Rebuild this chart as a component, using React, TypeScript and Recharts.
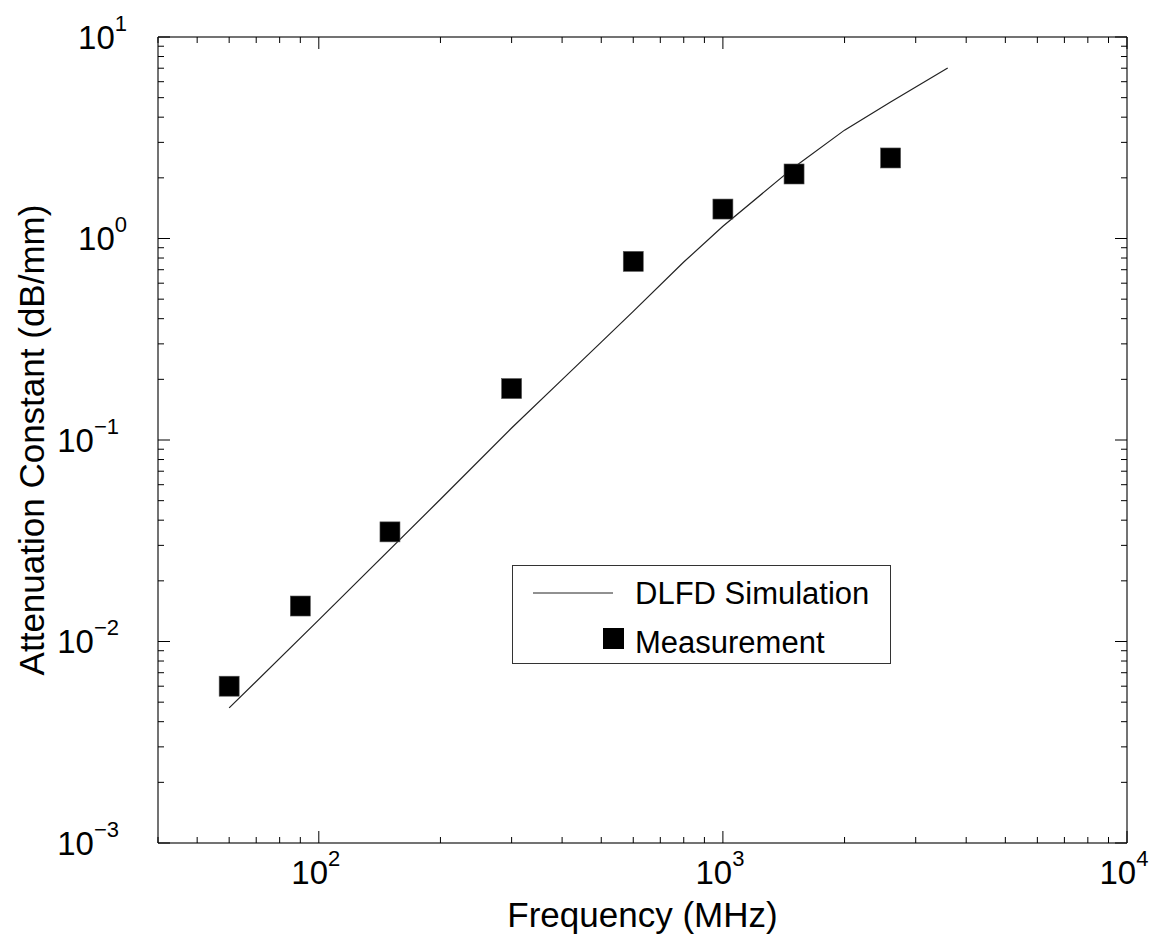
import React from "react";
import { ComposedChart, Line, Scatter, XAxis, YAxis, Legend, Label } from "recharts";

// DLFD simulation curve
const simFreq = [60, 100, 200, 300, 400, 500, 600, 800, 1000, 1500, 2000, 2600, 3600];
const simAtten = [0.00468, 0.0128, 0.0508, 0.1147, 0.1995, 0.306, 0.435, 0.764, 1.15, 2.26, 3.45, 4.76, 7.02];

// measured points
const measFreq = [60, 90, 150, 300, 600, 1000, 1500, 2600];
const measAtten = [0.006, 0.015, 0.035, 0.18, 0.77, 1.4, 2.09, 2.51];

const xDecades = [10, 100, 1000, 10000];
const yDecades = [0.001, 0.01, 0.1, 1, 10];
const xDomain = [40, 10000];
const yDomain = [0.001, 10];

const FONT = "'Liberation Sans', Arial, Helvetica, sans-serif";

const simData = simFreq.map((f, i) => ({ f, a: simAtten[i] }));
const measData = measFreq.map((f, i) => ({ f, a: measAtten[i] }));

function logTicks(decades: number[], lo: number, hi: number) {
  const out: number[] = [];
  for (const d of decades) {
    for (let m = 1; m < 10; m++) {
      const v = +(d * m).toPrecision(6);
      if (v >= lo - 1e-9 && v <= hi + 1e-9) out.push(v);
    }
  }
  return out;
}
const xTicks = logTicks(xDecades, xDomain[0], xDomain[1]);
const yTicks = logTicks(yDecades, yDomain[0], yDomain[1]);

const expOf = (v: number) => Math.round(Math.log10(v));
const isMajor = (v: number) => Math.abs(Math.log10(v) - expOf(v)) < 1e-6;
const supText = (e: number) => (e < 0 ? "\u2212" + Math.abs(e) : String(e));

const MAJOR = 12;
const MINOR = 6;

function BottomTick({ x, y, payload }: any) {
  const v = payload.value;
  const major = isMajor(v);
  return (
    <g>
      <line x1={x} x2={x} y1={y} y2={y - (major ? MAJOR : MINOR)} stroke="#000" strokeWidth={1} />
      {major && (
        <text x={x - 3} y={y + 41} textAnchor="middle" fontSize={33} fontFamily={FONT} fill="#000">
          <tspan>10</tspan>
          <tspan dy={-18} fontSize={22}>{supText(expOf(v))}</tspan>
        </text>
      )}
    </g>
  );
}

function TopTick({ x, y, payload }: any) {
  const major = isMajor(payload.value);
  return <line x1={x} x2={x} y1={y} y2={y + (major ? MAJOR : MINOR)} stroke="#000" strokeWidth={1} />;
}

function LeftTick({ x, y, payload }: any) {
  const v = payload.value;
  const major = isMajor(v);
  const e = expOf(v);
  return (
    <g>
      <line x1={x} x2={x + (major ? MAJOR : MINOR)} y1={y} y2={y} stroke="#000" strokeWidth={1} />
      {major && (
        <text x={x - (e < 0 ? 39 : 31)} y={y + 11.5} textAnchor="end" fontSize={33} fontFamily={FONT} fill="#000">
          <tspan>10</tspan>
          <tspan dy={-18} fontSize={22}>{supText(e)}</tspan>
        </text>
      )}
    </g>
  );
}

function RightTick({ x, y, payload }: any) {
  const major = isMajor(payload.value);
  return <line x1={x} x2={x - (major ? MAJOR : MINOR)} y1={y} y2={y} stroke="#000" strokeWidth={1} />;
}

function Square({ cx, cy }: any) {
  return <rect x={cx - 10} y={cy - 10} width={20} height={20} fill="#000" stroke="#555" strokeWidth={0.6} />;
}

function LegendBox() {
  return (
    <div
      style={{
        width: 377,
        height: 97,
        border: "1.5px solid #333",
        background: "#fff",
        fontFamily: FONT,
        position: "relative",
      }}
    >
      <svg width={377} height={97} style={{ position: "absolute", left: 0, top: 0 }}>
        <line x1={20} x2={100} y1={27} y2={27} stroke="#222" strokeWidth={1} />
        <rect x={90} y={62} width={21} height={21} fill="#000" />
        <text x={122} y={38} fontSize={31} fontFamily={FONT} fill="#000">DLFD Simulation</text>
        <text x={122} y={87} fontSize={31} fontFamily={FONT} fill="#000">Measurement</text>
      </svg>
    </div>
  );
}

export default function App() {
  const axisLine = { stroke: "#444", strokeWidth: 1.5 };
  return (
    <div style={{ position: "absolute", left: 0, top: 0, width: 1149, height: 937, background: "#fff" }}>
      <ComposedChart width={1149} height={937} margin={{ top: 36, right: 21, bottom: 93, left: 157 }}>
        <XAxis
          xAxisId={0}
          dataKey="f"
          type="number"
          scale="log"
          domain={xDomain}
          allowDataOverflow
          ticks={xTicks}
          interval={0}
          height={1}
          tickSize={0}
          tickMargin={0}
          tickLine={false}
          axisLine={axisLine}
          tick={<BottomTick />}
        >
          <Label
            content={({ viewBox }: any) => (
              <text x={viewBox.x + viewBox.width / 2} y={927} textAnchor="middle" fontSize={35} fontFamily={FONT} fill="#000">
                Frequency (MHz)
              </text>
            )}
          />
        </XAxis>
        <XAxis
          xAxisId="top"
          orientation="top"
          dataKey="f"
          type="number"
          scale="log"
          domain={xDomain}
          allowDataOverflow
          ticks={xTicks}
          interval={0}
          height={1}
          tickSize={0}
          tickMargin={0}
          tickLine={false}
          axisLine={axisLine}
          tick={<TopTick />}
        />
        <YAxis
          yAxisId={0}
          dataKey="a"
          type="number"
          scale="log"
          domain={yDomain}
          allowDataOverflow
          ticks={yTicks}
          interval={0}
          width={1}
          tickSize={0}
          tickMargin={0}
          tickLine={false}
          axisLine={axisLine}
          tick={<LeftTick />}
        >
          <Label
            content={({ viewBox }: any) => {
              const cy = viewBox.y + viewBox.height / 2;
              return (
                <text
                  x={31}
                  y={cy}
                  transform={`rotate(-90 31 ${cy})`}
                  textAnchor="middle"
                  dominantBaseline="central"
                  fontSize={35}
                  fontFamily={FONT}
                  fill="#000"
                >
                  Attenuation Constant (dB/mm)
                </text>
              );
            }}
          />
        </YAxis>
        <YAxis
          yAxisId="right"
          orientation="right"
          dataKey="a"
          type="number"
          scale="log"
          domain={yDomain}
          allowDataOverflow
          ticks={yTicks}
          interval={0}
          width={1}
          tickSize={0}
          tickMargin={0}
          tickLine={false}
          axisLine={axisLine}
          tick={<RightTick />}
        />
        <Line
          name="DLFD Simulation"
          data={simData}
          dataKey="a"
          type="linear"
          stroke="#222"
          strokeWidth={1.2}
          dot={false}
          activeDot={false}
          isAnimationActive={false}
        />
        <Scatter
          name="Measurement"
          data={measData}
          dataKey="a"
          fill="#000"
          shape={<Square />}
          isAnimationActive={false}
        />
        <Legend
          layout="horizontal"
          verticalAlign="middle"
          align="center"
          content={() => <LegendBox />}
          wrapperStyle={{ position: "absolute", left: 512, top: 565, width: 380, height: 100 }}
        />
      </ComposedChart>
    </div>
  );
}
